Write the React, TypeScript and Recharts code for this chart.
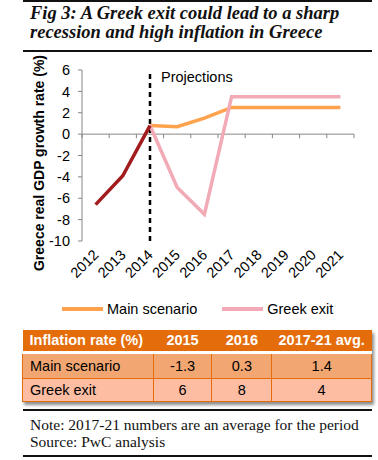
import React from 'react';
import { LineChart, Line, XAxis, YAxis, ReferenceLine } from 'recharts';

const years = ['2012', '2013', '2014', '2015', '2016', '2017', '2018', '2019', '2020', '2021'];
const historical = [-6.6, -3.9, 0.8, null, null, null, null, null, null, null];
const mainScenario = [null, null, 0.8, 0.7, 1.5, 2.5, 2.5, 2.5, 2.5, 2.5];
const greekExit = [null, null, 0.8, -5.0, -7.5, 3.5, 3.5, 3.5, 3.5, 3.5];
const yTicks = [-10, -8, -6, -4, -2, 0, 2, 4, 6];

const inflationHeader = ['Inflation rate (%)', '2015', '2016', '2017-21 avg.'];
const inflationMain = ['Main scenario', '-1.3', '0.3', '1.4'];
const inflationExit = ['Greek exit', '6', '8', '4'];

const HIST = '#A21C1E';
const MAIN = '#FFA24E';
const EXIT = '#F1AAB6';
const AXIS = '#868686';
const SANS = '"Liberation Sans", Arial, sans-serif';
const SERIF = '"Liberation Serif", Georgia, serif';

const data = years.map((y, i) => ({
  x: i + 0.5,
  year: y,
  hist: historical[i],
  main: mainScenario[i],
  exit: greekExit[i],
}));

const boundaries = years.map((_, i) => i).concat([years.length]);

const YearTick = (props: any) => {
  const { x, y, payload } = props;
  const label = years[Math.floor(payload.value)];
  return (
    <g transform={`translate(${x + 1},${y + 4})`}>
      <text x={0} y={0} dy={4} textAnchor="end" transform="rotate(-45)" fontSize={14.5} fill="#000" fontFamily={SANS}>
        {label}
      </text>
    </g>
  );
};

const Rule = ({ top }: { top: number }) => (
  <div style={{ position: 'absolute', left: 23, width: 349, top, height: 2, background: '#111' }} />
);

const cellBase: React.CSSProperties = {
  border: '1.5px solid #E46C0A',
  padding: 0,
  fontFamily: SANS,
  fontSize: 14.5,
  textAlign: 'center',
};

const App = () => {
  return (
    <div style={{ position: 'absolute', left: 0, top: 0, width: 378, height: 460, background: '#fff', overflow: 'hidden' }}>
      <Rule top={0} />
      <div
        style={{
          position: 'absolute',
          left: 30,
          top: 4,
          fontFamily: SERIF,
          fontStyle: 'italic',
          fontWeight: 'bold',
          fontSize: 18.5,
          lineHeight: '19px',
          color: '#111',
          whiteSpace: 'nowrap',
        }}
      >
        Fig 3: A Greek exit could lead to a sharp
        <br />
        recession and high inflation in Greece
      </div>
      <Rule top={50} />

      <div
        style={{
          position: 'absolute',
          left: 39,
          top: 163,
          transform: 'translate(-50%, -50%) rotate(-90deg)',
          fontFamily: SANS,
          fontWeight: 'bold',
          fontSize: 14,
          whiteSpace: 'nowrap',
        }}
      >
        Greece real GDP growth rate (%)
      </div>

      <div style={{ position: 'absolute', left: 0, top: 55 }}>
        <LineChart width={378} height={245} data={data} margin={{ top: 15, right: 24, left: 52, bottom: 14 }}>
          <XAxis
            dataKey="x"
            type="number"
            domain={[0, 10]}
            ticks={data.map((d) => d.x)}
            axisLine={false}
            tickLine={false}
            height={45}
            tick={<YearTick />}
            interval={0}
          />
          <YAxis
            type="number"
            domain={[-10, 6]}
            ticks={yTicks}
            width={30}
            stroke={AXIS}
            tickSize={4}
            tickMargin={8}
            tick={{ fill: '#000', fontSize: 14.5, fontFamily: SANS }}
            interval={0}
          />
          <ReferenceLine y={0} stroke={AXIS} strokeWidth={1} />
          {boundaries.map((b) => (
            <ReferenceLine
              key={b}
              segment={[
                { x: b, y: 0 },
                { x: b, y: -0.38 },
              ]}
              stroke={AXIS}
              strokeWidth={1}
            />
          ))}
          <ReferenceLine
            x={2.5}
            stroke="#000"
            strokeWidth={2.5}
            strokeDasharray="5 4"
            label={(p: any) => (
              <text
                x={p.viewBox.x + 11}
                y={p.viewBox.y + 12}
                fontSize={14.5}
                fontFamily={SANS}
                fill="#000"
              >
                Projections
              </text>
            )}
          />
          <Line dataKey="main" stroke={MAIN} strokeWidth={3.5} dot={false} isAnimationActive={false} connectNulls={false} />
          <Line dataKey="exit" stroke={EXIT} strokeWidth={3.5} dot={false} isAnimationActive={false} connectNulls={false} />
          <Line dataKey="hist" stroke={HIST} strokeWidth={3.5} dot={false} isAnimationActive={false} connectNulls={false} />
        </LineChart>
      </div>

      <div style={{ position: 'absolute', left: 62, top: 301, display: 'flex', alignItems: 'center', fontFamily: SANS, fontSize: 14.5 }}>
        <span style={{ display: 'inline-block', width: 41, height: 4, background: MAIN, marginRight: 4 }} />
        <span>Main scenario</span>
        <span style={{ display: 'inline-block', width: 41, height: 4, background: EXIT, marginLeft: 25, marginRight: 4 }} />
        <span>Greek exit</span>
      </div>

      <table
        style={{
          position: 'absolute',
          left: 22,
          top: 330,
          width: 350,
          borderCollapse: 'collapse',
          boxShadow: '2px 3px 3px rgba(0,0,0,0.45)',
        }}
      >
        <colgroup>
          <col style={{ width: 131 }} />
          <col style={{ width: 59 }} />
          <col style={{ width: 60 }} />
          <col style={{ width: 100 }} />
        </colgroup>
        <tbody>
          <tr style={{ height: 22, background: '#E46C0A', borderBottom: '3px solid #fff' }}>
            {inflationHeader.map((h, i) => (
              <td
                key={h}
                style={{
                  ...cellBase,
                  border: 'none',
                  color: '#fff',
                  fontWeight: 'bold',
                  textAlign: i === 0 ? 'left' : 'center',
                  paddingLeft: i === 0 ? 7 : 0,
                }}
              >
                {h}
              </td>
            ))}
          </tr>
          <tr style={{ height: 26, background: '#F2A672' }}>
            {inflationMain.map((v, i) => (
              <td key={i} style={{ ...cellBase, textAlign: i === 0 ? 'left' : 'center', paddingLeft: i === 0 ? 7 : 0 }}>
                {v}
              </td>
            ))}
          </tr>
          <tr style={{ height: 23, background: '#FDBDA3' }}>
            {inflationExit.map((v, i) => (
              <td key={i} style={{ ...cellBase, textAlign: i === 0 ? 'left' : 'center', paddingLeft: i === 0 ? 7 : 0 }}>
                {v}
              </td>
            ))}
          </tr>
        </tbody>
      </table>

      <Rule top={409} />
      <div style={{ position: 'absolute', left: 30, top: 416, fontFamily: SERIF, fontSize: 15.5, lineHeight: '17px', color: '#111', whiteSpace: 'nowrap' }}>
        Note: 2017-21 numbers are an average for the period
        <br />
        Source: PwC analysis
      </div>
      <Rule top={455} />
    </div>
  );
};

export default App;
